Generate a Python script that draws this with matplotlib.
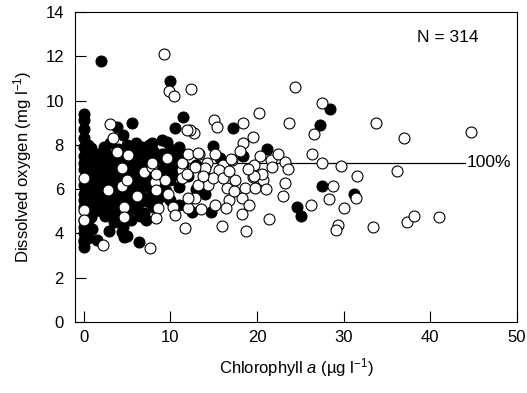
import numpy as np
import matplotlib
matplotlib.use("Agg")
import matplotlib.pyplot as plt

plt.rcParams['font.family'] = ['Liberation Sans', 'DejaVu Sans']
plt.rcParams['mathtext.fontset'] = 'custom'
plt.rcParams['mathtext.rm'] = 'Liberation Sans'
plt.rcParams['mathtext.it'] = 'Liberation Sans:italic'

# filled circles (chl a, DO) - outliers
filled_out = [(2.0, 11.8), (10.0, 10.9), (5.6, 9.0), (11.5, 9.25), (10.5, 8.75),
              (17.2, 8.77), (14.9, 7.95), (21.2, 7.8), (18.4, 7.5), (15.7, 7.4),
              (28.4, 9.6), (27.3, 8.9), (27.5, 6.15), (31.2, 5.8), (24.6, 5.2),
              (25.1, 4.8), (14.7, 4.96), (6.4, 3.6), (0.0, 3.4), (9.6, 8.13),
              (7.9, 8.08), (6.7, 7.9), (4.5, 8.44), (3.8, 8.8), (2.4, 7.9),
              (0.9, 7.86), (12.5, 4.97), (7.2, 4.6), (2.9, 4.1), (4.7, 3.85),
              (4.4, 4.07), (0.9, 4.75)]

# filled circles in the dense block, column by column
filled_cols = {
    0.0: [9.4, 9.1, 8.7, 8.3, 7.9, 7.5, 7.2, 6.9, 6.2, 5.8, 5.5, 5.2, 4.6, 4.3, 4.0, 3.7, 3.6],
    0.5: [8.0, 7.6, 7.0, 6.6, 6.0, 5.6, 4.4, 3.8],
    1.0: [7.3, 6.8, 6.3, 5.9, 5.4, 4.9, 4.2],
    1.5: [7.6, 7.1, 6.6, 6.1, 5.7, 5.2, 3.7],
    2.0: [7.4, 6.9, 6.4, 6.0, 5.5, 5.0],
    2.5: [7.7, 7.2, 6.7, 6.2, 5.8, 5.3, 4.8],
    3.0: [8.1, 7.5, 7.0, 6.5, 6.0, 5.4, 4.9],
    3.5: [7.3, 6.8, 6.3, 5.7, 5.2, 4.5],
    4.0: [7.8, 7.1, 6.6, 6.0, 5.5, 4.9],
    4.5: [7.5, 6.9, 6.3, 5.8, 5.2, 4.3],
    5.0: [8.0, 7.2, 6.7, 6.1, 5.6, 5.0, 3.9],
    5.5: [7.7, 7.0, 6.5, 5.9, 5.3, 4.6],
    6.0: [8.1, 7.4, 6.8, 6.2, 5.7, 5.1],
    6.5: [7.8, 7.1, 6.5, 6.0, 5.4, 4.8],
    7.0: [7.5, 6.9, 6.3, 5.6, 4.9],
    7.5: [8.0, 7.3, 6.7, 6.1, 5.4],
    8.0: [7.7, 7.0, 6.4, 5.8, 5.2],
    8.5: [7.4, 6.8, 6.2, 5.5],
    9.0: [8.2, 7.6, 6.9, 6.3, 5.7],
    9.5: [7.2, 6.6, 5.9],
    10.0: [7.8, 7.0, 6.4, 5.5],
    10.5: [7.4, 6.7],
    11.0: [7.9, 6.9, 6.1, 5.3],
    11.5: [7.6, 7.1],
    12.0: [6.6],
    13.0: [7.1, 6.0],
    14.0: [6.6, 5.8],
}

# open circles (chl a, DO)
open_pts = [(9.25, 12.1), (9.9, 10.45), (10.4, 10.2), (12.4, 10.5), (24.4, 10.6),
            (27.5, 9.9), (23.7, 9.0), (26.6, 8.5), (33.7, 9.0), (37.0, 8.3),
            (44.7, 8.57), (26.4, 7.57), (27.5, 7.2), (29.7, 7.06), (31.5, 6.6),
            (36.2, 6.8), (23.2, 7.24), (23.6, 6.9), (23.2, 6.27), (23.0, 5.7),
            (28.8, 6.14), (28.3, 5.55), (31.4, 5.6), (26.2, 5.3), (30.0, 5.15),
            (29.4, 4.38), (29.1, 4.15), (33.4, 4.3), (37.3, 4.5), (38.1, 4.8),
            (41.0, 4.75), (20.2, 9.43), (15.0, 9.1), (15.4, 8.8), (12.7, 8.55),
            (12.3, 8.67), (18.4, 9.0), (18.4, 8.1), (19.5, 8.35), (13.3, 7.6),
            (14.2, 7.2), (17.1, 7.3), (19.7, 7.1), (21.6, 7.3), (16.1, 7.1),
            (14.0, 6.95), (15.6, 6.87), (17.5, 6.4), (19.5, 6.55), (20.7, 6.4),
            (21.7, 7.0), (16.5, 6.05), (18.6, 6.05), (19.8, 6.05), (18.3, 5.6),
            (16.8, 5.5), (16.4, 5.15), (19.1, 5.3), (18.3, 4.88), (21.4, 4.66),
            (16.0, 4.34), (18.7, 4.1), (14.3, 6.2), (12.8, 5.6), (14.9, 6.5),
            (16.1, 6.5), (0.0, 6.5), (2.8, 5.96), (4.4, 6.15), (5.0, 6.4),
            (4.4, 6.95), (0.0, 5.06), (0.0, 4.6), (4.7, 5.2), (4.7, 4.75),
            (2.2, 3.48), (7.6, 3.33), (7.0, 6.77), (8.2, 6.3), (8.4, 5.96),
            (9.4, 6.4), (9.7, 5.8), (8.6, 5.15), (8.4, 4.7), (10.3, 5.2),
            (10.5, 4.83), (11.7, 4.25), (7.9, 7.0), (12.0, 5.15), (12.0, 5.6),
            (11.4, 6.87), (11.3, 6.5), (6.2, 5.7), (8.3, 6.7), (3.0, 8.94),
            (3.35, 8.3), (3.9, 7.68), (5.1, 7.54), (7.9, 7.2), (9.6, 7.4),
            (11.3, 7.2), (12.0, 7.6), (13.2, 7.63), (11.9, 8.67), (13.2, 6.2),
            (11.9, 6.7), (17.0, 7.35), (20.6, 6.7), (19.7, 6.6), (12.9, 7.0),
            (13.8, 6.6), (15.2, 7.6), (16.8, 6.8), (18.0, 7.7), (19.0, 6.9),
            (20.3, 7.5), (22.4, 7.6), (21.0, 6.0), (17.3, 5.9), (15.2, 5.3),
            (13.5, 5.1)]

saturation = 7.2   # 100% saturation line
n_label = "N = 314"

filled = list(filled_out)
for cx, ys in filled_cols.items():
    for cy in ys:
        filled.append((cx, cy))
filled = np.array(filled)
opn = np.array(open_pts)

fig = plt.figure(figsize=(5.27, 3.93), dpi=100)
ax = fig.add_axes([0.1423, 0.1807, 0.8387, 0.7888])

ax.plot([0, 44], [saturation, saturation], color='black', lw=0.9, zorder=1)
ax.scatter(filled[:, 0], filled[:, 1], s=62, c='black', edgecolors='black',
           linewidths=0.8, zorder=2)
ax.scatter(opn[:, 0], opn[:, 1], s=62, c='white', edgecolors='black',
           linewidths=0.8, zorder=3)

ax.text(44.2, saturation, "100%", ha='left', va='center', fontsize=12.5)
ax.text(42, 12.85, n_label, ha='center', va='center', fontsize=12.5)

ax.set_xlim(-1, 50)
ax.set_ylim(0, 14)
ax.set_xticks([0, 10, 20, 30, 40, 50])
ax.set_yticks([0, 2, 4, 6, 8, 10, 12, 14])
ax.tick_params(direction='in', length=8, width=0.8, labelsize=12)
ax.tick_params(axis='x', pad=6)
ax.tick_params(axis='y', pad=8)
for sp in ax.spines.values():
    sp.set_linewidth(0.8)

ax.set_xlabel("Chlorophyll $a$ (\u00b5g l$^{-1}$)", fontsize=12, labelpad=8)
ax.set_ylabel("Dissolved oxygen (mg l$^{-1}$)", fontsize=12, labelpad=8)

fig.savefig("out.png", dpi=100)
